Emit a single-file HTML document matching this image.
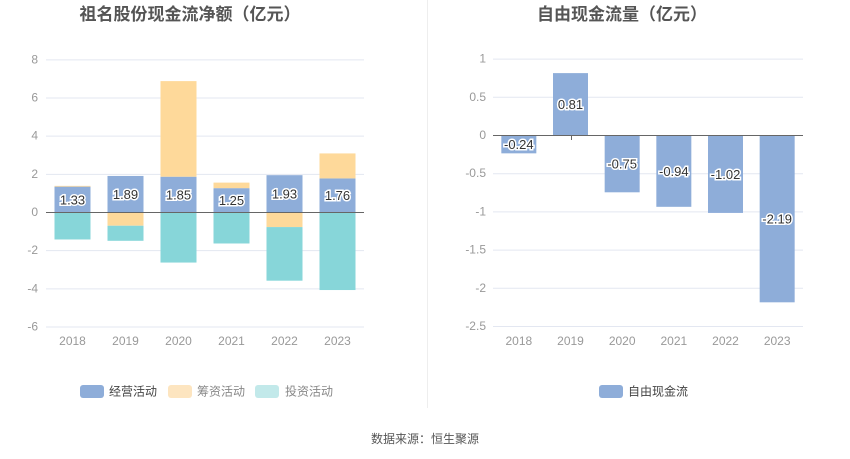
<!DOCTYPE html>
<html><head><meta charset="utf-8">
<style>
body{margin:0;background:#fff;font-family:"Liberation Sans","Noto Sans CJK SC",sans-serif;}
svg{display:block}
text{font-family:"Liberation Sans","Noto Sans CJK SC",sans-serif;}
</style></head>
<body>
<svg id="c" width="850" height="459">
<text x="190" y="20" text-anchor="middle" font-size="17" font-weight="bold" fill="#555">祖名股份现金流净额（亿元）</text>
<text x="622" y="20" text-anchor="middle" font-size="17" font-weight="bold" fill="#555">自由现金流量（亿元）</text>
<line x1="427.5" y1="0" x2="427.5" y2="408" stroke="#eee"/>
<g id="left"></g>
<g id="right"></g>
<g>
<rect x="80" y="385" width="24" height="13" rx="3" fill="#8eadd9"/>
<text x="109" y="395.5" font-size="12" fill="#444">经营活动</text>
<rect x="168" y="385" width="24" height="13" rx="3" fill="#fde5c0"/>
<text x="197" y="395.5" font-size="12" fill="#888">筹资活动</text>
<rect x="255" y="385" width="24" height="13" rx="3" fill="#c2e9ea"/>
<text x="285" y="395.5" font-size="12" fill="#888">投资活动</text>
</g>
<g>
<rect x="599" y="385" width="24" height="13" rx="3" fill="#8eadd9"/>
<text x="628" y="395.5" font-size="12" fill="#444">自由现金流</text>
</g>
<text x="425" y="443" text-anchor="middle" font-size="12" fill="#555">数据来源：恒生聚源</text>
</svg>
<script>
const categories=["2018","2019","2020","2021","2022","2023"];
const operating=[1.33,1.89,1.85,1.25,1.93,1.76];
const financing=[0.04,-0.72,5.01,0.29,-0.79,1.31];
const investing=[-1.44,-0.79,-2.65,-1.65,-2.81,-4.09];
const leftTicks=[8,6,4,2,0,-2,-4,-6];
const fcf=[-0.24,0.81,-0.75,-0.94,-1.02,-2.19];
const rightTicks=[1,0.5,0,-0.5,-1,-1.5,-2,-2.5];

const NS="http://www.w3.org/2000/svg";
function mk(parent,tag,attrs,txt){const e=document.createElementNS(NS,tag);for(const k in attrs)e.setAttribute(k,attrs[k]);if(txt!==undefined)e.textContent=txt;parent.appendChild(e);return e;}

const L=document.getElementById('left');
const lx0=46,lx1=364,ly=v=>212-(v)*19.08;
const lbw=(lx1-lx0)/categories.length;
const lcx=i=>lx0+lbw*(i+0.5);
leftTicks.forEach(t=>{
  const g=mk(L,'line',{x1:lx0,x2:lx1,y1:ly(t)+0.5,y2:ly(t)+0.5,stroke:t===0?'#666':'#e3e7f1'});
  
  
  const tx=mk(L,'text',{x:38,y:ly(t)+4,'text-anchor':'end','font-size':12,fill:'#999'},String(t));
  
  
});
categories.forEach((c,i)=>{
  const x=lcx(i)-18,w=36;
  let pos=0,neg=0;
  const seg=(v,col,name)=>{
    let y0,y1;
    if(v>=0){y0=pos;y1=pos+v;pos=y1;}else{y0=neg;y1=neg+v;neg=y1;}
    const top=ly(Math.max(y0,y1)),bot=ly(Math.min(y0,y1));
    const r=mk(L,'rect',{x:x,y:top,width:w,height:Math.max(bot-top,0),fill:col});
    
    
  };
  seg(operating[i],'#8eadd9','bar-operating');
  seg(financing[i],'#fed99a','bar-financing');
  seg(investing[i],'#87d6d9','bar-investing');
  const lab=mk(L,'text',{x:lcx(i),y:ly(operating[i]/2)+5,'text-anchor':'middle','font-size':13,fill:'#333',stroke:'#fff','stroke-width':3,'paint-order':'stroke'},operating[i].toFixed(2));
  
  
  const xl=mk(L,'text',{x:lcx(i),y:345,'text-anchor':'middle','font-size':12,fill:'#999'},c);
  
  
});
mk(L,'line',{x1:lx0,x2:lx1,y1:ly(0)+0.5,y2:ly(0)+0.5,stroke:'#666'});

const R=document.getElementById('right');
const rx0=493,rx1=803,ry=v=>135-v*76.4;
const rbw=(rx1-rx0)/categories.length;
const rcx=i=>rx0+rbw*(i+0.5);
rightTicks.forEach(t=>{
  const g=mk(R,'line',{x1:rx0,x2:rx1,y1:ry(t)+0.5,y2:ry(t)+0.5,stroke:t===0?'#666':'#e3e7f1'});
  
  
  const tx=mk(R,'text',{x:486,y:ry(t)+4,'text-anchor':'end','font-size':12,fill:'#999'},String(t));
  
  
});
categories.forEach((c,i)=>{
  const tk=mk(R,'line',{x1:Math.round(rcx(i))+0.5,x2:Math.round(rcx(i))+0.5,y1:ry(0),y2:ry(0)+5,stroke:'#666'});
  
  
  const v=fcf[i],top=ry(Math.max(v,0)),bot=ry(Math.min(v,0));
  const r=mk(R,'rect',{x:rcx(i)-17.5,y:top,width:35,height:bot-top,fill:'#8eadd9'});
  
  
  const lab=mk(R,'text',{x:rcx(i),y:ry(v/2)+5,'text-anchor':'middle','font-size':13,fill:'#333',stroke:'#fff','stroke-width':3,'paint-order':'stroke'},v.toFixed(2));
  
  
  const xl=mk(R,'text',{x:rcx(i),y:345,'text-anchor':'middle','font-size':12,fill:'#999'},c);
  
  
});
mk(R,'line',{x1:rx0,x2:rx1,y1:ry(0)+0.5,y2:ry(0)+0.5,stroke:'#666'});
</script>
</body></html>
